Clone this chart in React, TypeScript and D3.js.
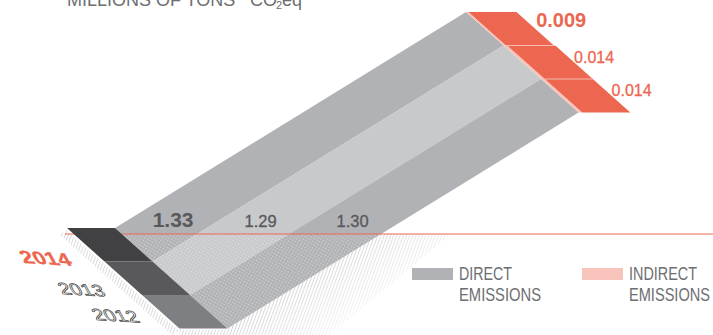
import React from 'react';
import * as d3 from 'd3';

// ---- data ----
const years = ['2014', '2013', '2012'];
const directValues = [1.33, 1.29, 1.30];
const indirectValues = [0.009, 0.014, 0.014];
const legendLines = [['DIRECT', 'EMISSIONS'], ['INDIRECT', 'EMISSIONS']];
const unitText = 'MILLIONS OF TONS';

// ---- styles ----
const W = 713, H = 335;
const RED = '#ec6650';
const PINK = '#f7c3ba';
const BODY = ['#b1b2b5', '#c8c9cb', '#b1b2b5'];
const FACE = ['#414143', '#59595b', '#7e7f82'];
const LABEL = '#58595b';
const LEGEND = '#6d6e71';
const FONT = "'Liberation Sans', Arial, Helvetica, sans-serif";

type P = [number, number];
const add = (p: P, dx: number, dy: number): P => [p[0] + dx, p[1] + dy];

export default function App() {
  const faceTop = 228, bandH = 33.5, skew = 37.5 / 33.5, faceW = 48, capW = 48;
  const D: P = [351, -216];
  const groundY = 234;
  const yScale = d3.scaleBand<string>().domain(years).range([faceTop, faceTop + bandH * years.length]);
  const xAt = (y: number) => 67 + (y - faceTop) * skew;
  const indirectScale = d3.scaleLinear().domain([0, d3.max(indirectValues) as number]).range([0, 3.8]);
  const fmt2 = d3.format('.2f');
  const fmt3 = d3.format('.3f');
  const line = d3.line();
  const poly = (pts: P[]) => (line(pts as any) as string) + 'Z';

  const bars = years.map((yr, i) => {
    const ty = yScale(yr) as number;
    const by = ty + yScale.bandwidth();
    const TL: P = [xAt(ty), ty];
    const BL: P = [xAt(by), by];
    const TR = add(TL, faceW, 0);
    const BR = add(BL, faceW, 0);
    const E1 = add(TR, D[0], D[1]);
    const E2 = add(BR, D[0], D[1]);
    const w = indirectScale(indirectValues[i]);
    const C1 = add(E1, w, 0), C2 = add(E2, w, 0);
    const C3 = add(C1, capW, 0), C4 = add(C2, capW, 0);
    const labelY = groundY - 7;
    const labelX = TR[0] + (TR[1] - labelY) * (-D[0] / D[1]) + 36;
    const mid: P = [(C3[0] + C4[0]) / 2, (C3[1] + C4[1]) / 2];
    return { yr, i, TL, BL, TR, BR, E1, E2, C1, C2, C3, C4, labelX, labelY, mid };
  });

  const first = bars[0], last = bars[bars.length - 1];
  const union: P[] = [first.TR, first.E1, last.E2, last.BR];
  const t = (last.BR[1] - groundY) / -D[1];
  const edgeAtGround = add(last.BR, D[0] * t, D[1] * t);
  const shadowPoly: P[] = [last.BR, edgeAtGround, add(edgeAtGround, 70, 0), [330, H], [last.BR[0], H]];
  const edgeStrip: P[] = [add(first.TL, -1, 2), add(last.BL, -1, 2), add(last.BL, -7, 7), add(first.TL, -7, 7)];
  const bottomStrip: P[] = [add(last.BL, 0, 1), add(last.BR, 0, 1), [last.BR[0], H], [last.BL[0], H]];

  const yearTransforms = [
    { x: 24, y: 263, size: 16.5 },
    { x: 62, y: 294, size: 15 },
    { x: 96, y: 320, size: 15 },
  ];

  const legendX = [459, 629];
  const legendW = [[53, 82], [68, 81]];

  return (
    <svg width={W} height={H} style={{ position: 'absolute', left: 0, top: 0, background: '#fff' }} fontFamily={FONT}>
      <defs>
        <pattern id="hatch" width="3" height="8" patternUnits="userSpaceOnUse" patternTransform="rotate(20)">
          <line x1="0.5" y1="0" x2="0.5" y2="8" stroke="#c4c5c7" strokeWidth="0.8" />
        </pattern>
        <pattern id="dots" width="3" height="3" patternUnits="userSpaceOnUse" patternTransform="rotate(30)">
          <circle cx="1.5" cy="1.5" r="0.75" fill="#ffffff" fillOpacity="0.45" />
        </pattern>
        <linearGradient id="fade" gradientUnits="userSpaceOnUse" x1="300" y1="280" x2="345" y2="345">
          <stop offset="0" stopColor="#fff" stopOpacity="0.9" />
          <stop offset="1" stopColor="#fff" stopOpacity="0" />
        </linearGradient>
        <mask id="fadeMask" maskUnits="userSpaceOnUse" x="0" y="0" width={W} height={H}>
          <rect x="0" y="0" width={W} height={H} fill="url(#fade)" />
        </mask>
        <clipPath id="below">
          <rect x="0" y={groundY} width={W} height={H - groundY} />
        </clipPath>
      </defs>

      {/* shadows */}
      <path d={poly(shadowPoly)} fill="url(#hatch)" mask="url(#fadeMask)" />
      <path d={poly(edgeStrip)} fill="url(#hatch)" opacity={0.8} />
      <path d={poly(bottomStrip)} fill="url(#hatch)" opacity={0.8} />

      {/* bar bodies */}
      {bars.map((b) => (
        <path key={'body' + b.yr} d={poly([b.TR, b.E1, b.E2, b.BR])} fill={BODY[b.i]} />
      ))}
      <g clipPath="url(#below)">
        <path d={poly(union)} fill="url(#dots)" />
      </g>

      {/* ground line */}
      <line x1={65} x2={W} y1={groundY} y2={groundY} stroke={RED} strokeWidth={1} />

      {/* front faces */}
      {bars.map((b) => (
        <path key={'face' + b.yr} d={poly([b.TL, b.TR, b.BR, b.BL])} fill={FACE[b.i]} />
      ))}

      {/* indirect: pink slivers + red caps */}
      {bars.map((b) => (
        <g key={'cap' + b.yr}>
          <path d={poly([b.E1, b.C1, b.C2, b.E2])} fill={PINK} />
          <path d={poly([b.C1, b.C3, b.C4, b.C2])} fill={RED} />
          {b.i > 0 && <line x1={b.C1[0]} x2={b.C3[0]} y1={b.C1[1]} y2={b.C1[1]} stroke={PINK} strokeWidth={0.9} />}
        </g>
      ))}

      {/* direct labels */}
      {bars.map((b) => (
        <text key={'dl' + b.yr} x={b.labelX} y={b.labelY} fill={LABEL}
          fontSize={b.i === 0 ? 21 : 16.5} fontWeight={b.i === 0 ? 'bold' : 'normal'}
          stroke={b.i === 0 ? 'none' : LABEL} strokeWidth={0.3}>
          {fmt2(directValues[b.i])}
        </text>
      ))}

      {/* indirect labels */}
      {bars.map((b) => (
        <text key={'il' + b.yr} x={b.mid[0] + (b.i === 0 ? 1 : 0)} y={b.mid[1] + (b.i === 0 ? -1.5 : 0.5)} fill={RED}
          fontSize={b.i === 0 ? 20 : 16} fontWeight={b.i === 0 ? 'bold' : 'normal'}
          stroke={b.i === 0 ? 'none' : RED} strokeWidth={0.3}>
          {fmt3(indirectValues[b.i])}
        </text>
      ))}

      {/* year labels lying on the floor plane */}
      {bars.map((b) => {
        const yt = yearTransforms[b.i];
        return (
          <text key={'yr' + b.yr}
            transform={`translate(${yt.x},${yt.y}) matrix(1.35,0.08,0.6,1.1,0,0)`}
            fontSize={yt.size} fontWeight={b.i === 0 ? 'bold' : 'normal'}
            fill={b.i === 0 ? RED : '#ffffff'} stroke={b.i === 0 ? RED : '#3f3f41'} strokeWidth={b.i === 0 ? 0.3 : 0.6}>
            {b.yr}
          </text>
        );
      })}

      {/* legend */}
      <rect x={412} y={268} width={41} height={12} fill={BODY[0]} />
      <rect x={582} y={268} width={41} height={12} fill={PINK} />
      {legendLines.map((lines, li) =>
        lines.map((txt, k) => (
          <text key={'lg' + li + k} transform={`translate(${legendX[li]},${280 + k * 21}) scale(0.81,1)`}
            fill={LEGEND} fontSize={18} textLength={legendW[li][k] / 0.81} lengthAdjust="spacingAndGlyphs">
            {txt}
          </text>
        ))
      )}

      {/* unit title (cropped at top, as in the reference) */}
      <text y={5.5} fill={LEGEND} fontSize={18}>
        <tspan x={67}>{unitText}</tspan>
        <tspan x={250}>CO</tspan>
        <tspan x={276} dy={3} fontSize={11}>2</tspan>
        <tspan x={282} dy={-3}>eq</tspan>
      </text>
    </svg>
  );
}
